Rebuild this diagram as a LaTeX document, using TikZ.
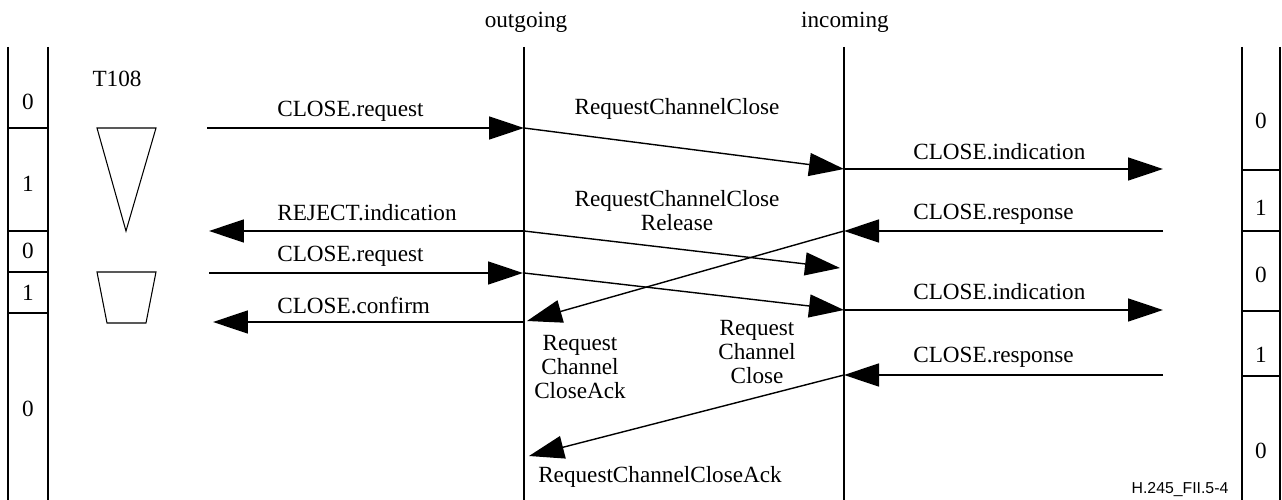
\documentclass[tikz,border=0pt]{standalone}
\usepackage{fontspec}
\setmainfont{Liberation Serif}
\setsansfont{Liberation Sans}
\usetikzlibrary{positioning,arrows.meta}

\tikzset{
  frame/.style={line width=0.6pt},
  msg/.style={line width=0.8pt,-{Triangle[length=0.7cm,width=0.46cm]}},
  lbl/.style={font=\fontsize{13.2}{13.6}\selectfont,inner sep=0pt},
}

\begin{document}
\begin{tikzpicture}[x=0.02cm,y=-0.02cm]
\useasboundingbox (0,0) rectangle (1282,500);

% Left T108 column
\draw[frame] (8,47) -- (8,500) (48,47) -- (48,500);
\foreach \yy in {128,231,272,313} \draw[frame] (8,\yy) -- (48,\yy);
\foreach \yy/\bit [count=\k] in {110/0,192/1,258/0,300/1,416/0}
    \node[lbl,anchor=base] (lbit\k) at (28,\yy) {\bit};

% Right column
\draw[frame] (1242,47) -- (1242,500) (1280,47) -- (1280,500);
\foreach \yy in {170,231,311,376} \draw[frame] (1242,\yy) -- (1280,\yy);
\foreach \yy/\bit [count=\k] in {129/0,215/1,282/0,362/1,458/0}
    \node[lbl,anchor=base] (rbit\k) at (1261,\yy) {\bit};

% Timer T108
\node[lbl,anchor=base] (timer) at (117,87) {T108};
\draw[frame] (97,128) -- (156,128) -- (126,231) -- cycle;
\draw[frame] (97,272) -- (156,272) -- (146,323) -- (107,323) -- cycle;

% Lifelines
\node[lbl,anchor=base] (outgoing) at (526,28) {outgoing};
\node[lbl,anchor=base] (incoming) at (845,28) {incoming};
\coordinate (outT) at (524,47);
\coordinate (outB) at (524,500);
\coordinate (inT) at (844,47);
\coordinate (inB) at (844,500);
\draw[frame] (outT) -- (outB);
\draw[frame] (inT) -- (inB);

% Message end points
\coordinate (ua1) at (207,128);
\coordinate (oa1) at (524,128);
\coordinate (ia1) at (844,169);
\coordinate (ra1) at (1163,169);
\coordinate (rb1) at (1163,231);
\coordinate (ib1) at (844,231);
\coordinate (ob1) at (524,231);
\coordinate (ub1) at (209,231);
\coordinate (ic1) at (840,268);
\coordinate (uc1) at (209,273);
\coordinate (oc1) at (523,273);
\coordinate (oc2) at (524,273);
\coordinate (id1) at (844,310);
\coordinate (rd1) at (1163,310);
\coordinate (oe1) at (527,321);
\coordinate (oe2) at (524,322);
\coordinate (ue1) at (213,322);
\coordinate (rf1) at (1163,375);
\coordinate (if1) at (844,375);
\coordinate (og1) at (529,456);

% First close attempt (rejected)
\draw[msg] (ua1) -- (oa1);
\draw[msg] (oa1) -- (ia1);
\draw[msg] (ia1) -- (ra1);
\draw[msg] (rb1) -- (ib1);
\draw[msg] (ob1) -- (ub1);
\draw[msg] (ob1) -- (ic1);

% Second close attempt
\draw[msg] (uc1) -- (oc1);
\draw[msg] (oc2) -- (id1);
\draw[msg] (id1) -- (rd1);
\draw[msg] (ib1) -- (oe1);
\draw[msg] (oe2) -- (ue1);
\draw[msg] (rf1) -- (if1);
\draw[msg] (if1) -- (og1);

% Labels
\node[lbl,anchor=base west] (lreq1) at (277,117) {CLOSE.request};
\node[lbl,anchor=base west] (lrej) at (277,220) {REJECT.indication};
\node[lbl,anchor=base west] (lreq2) at (277,261) {CLOSE.request};
\node[lbl,anchor=base west] (lconf) at (277,313) {CLOSE.confirm};
\node[lbl,anchor=base west] (lind1) at (913,159) {CLOSE.indication};
\node[lbl,anchor=base west] (lresp1) at (913,219) {CLOSE.response};
\node[lbl,anchor=base west] (lind2) at (913,299) {CLOSE.indication};
\node[lbl,anchor=base west] (lresp2) at (913,362) {CLOSE.response};
\node[lbl,anchor=base] (lrcc1) at (677,115) {RequestChannelClose};
\node[lbl,align=center] (lrcr) at (677,211) {RequestChannelClose\\Release};
\node[lbl,align=center] (lrcca1) at (580,367) {Request\\Channel\\CloseAck};
\node[lbl,align=center] (lrcc2) at (757,352) {Request\\Channel\\Close};
\node[lbl,anchor=base] (lrcca2) at (660,482) {RequestChannelCloseAck};

% Figure tag
\node[font=\sffamily\fontsize{9}{10}\selectfont,inner sep=0pt,anchor=base] (tag) at (1180,493) {H.245\_FII.5-4};

\end{tikzpicture}
\end{document}
